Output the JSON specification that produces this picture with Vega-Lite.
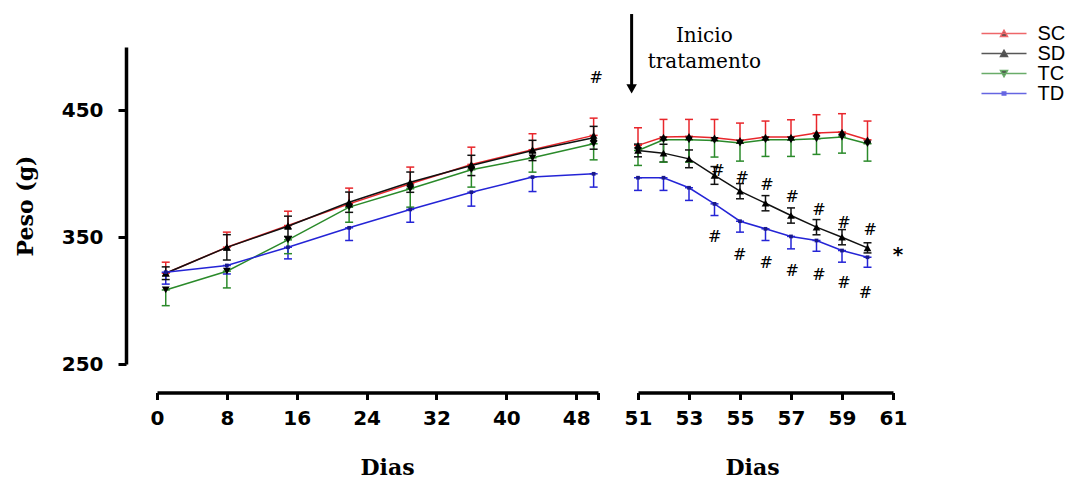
{
  "$schema": "https://vega.github.io/schema/vega-lite/v6.json",
  "background": "white",
  "padding": {"left": 14, "top": 12, "right": 2, "bottom": 2},
  "bounds": "flush",
  "spacing": 40,
  "config": {
    "view": {"stroke": null},
    "axis": {
      "grid": false, "domainColor": "black", "domainWidth": 3.5, "domainCap": "butt",
      "tickColor": "black", "tickWidth": 3, "tickSize": 7,
      "labelFont": "DejaVu Sans", "labelFontWeight": "bold", "labelFontSize": 20, "labelColor": "black",
      "labelFlush": false, "labelOverlap": false, "labelBound": false,
      "titleFont": "DejaVu Serif", "titleFontWeight": "bold", "titleFontSize": 22, "titleColor": "black"
    },
    "legend": {
      "labelFont": "Liberation Sans", "labelFontSize": 20, "labelColor": "black",
      "symbolStrokeWidth": 1.5, "symbolSize": 100, "rowPadding": -3.6, "padding": 0, "labelOffset": 23.5
    }
  },
  "datasets": {
    "pesos": [
      {"grupo": "SC", "dia": 1, "peso": 321.6, "lo": 321.6, "hi": 330.3},
      {"grupo": "SC", "dia": 8, "peso": 342.1, "lo": 342.1, "hi": 354.0},
      {"grupo": "SC", "dia": 15, "peso": 359.2, "lo": 359.2, "hi": 370.5},
      {"grupo": "SC", "dia": 22, "peso": 376.3, "lo": 376.3, "hi": 388.7},
      {"grupo": "SC", "dia": 29, "peso": 392.1, "lo": 392.1, "hi": 405.3},
      {"grupo": "SC", "dia": 36, "peso": 407.4, "lo": 407.4, "hi": 421.0},
      {"grupo": "SC", "dia": 43, "peso": 419.0, "lo": 419.0, "hi": 431.6},
      {"grupo": "SC", "dia": 50, "peso": 430.3, "lo": 430.3, "hi": 443.9},
      {"grupo": "SC", "dia": 51, "peso": 422.4, "lo": 422.4, "hi": 436.3},
      {"grupo": "SC", "dia": 52, "peso": 429.0, "lo": 429.0, "hi": 442.9},
      {"grupo": "SC", "dia": 53, "peso": 429.5, "lo": 429.5, "hi": 442.9},
      {"grupo": "SC", "dia": 54, "peso": 428.4, "lo": 428.4, "hi": 442.9},
      {"grupo": "SC", "dia": 55, "peso": 426.3, "lo": 426.3, "hi": 440.0},
      {"grupo": "SC", "dia": 56, "peso": 429.0, "lo": 429.0, "hi": 441.6},
      {"grupo": "SC", "dia": 57, "peso": 429.0, "lo": 429.0, "hi": 442.6},
      {"grupo": "SC", "dia": 58, "peso": 432.1, "lo": 432.1, "hi": 446.6},
      {"grupo": "SC", "dia": 59, "peso": 432.9, "lo": 432.9, "hi": 447.4},
      {"grupo": "SC", "dia": 60, "peso": 426.8, "lo": 426.8, "hi": 441.6},
      {"grupo": "SD", "dia": 1, "peso": 321.6, "lo": 316.6, "hi": 326.6},
      {"grupo": "SD", "dia": 8, "peso": 342.0, "lo": 332.0, "hi": 352.0},
      {"grupo": "SD", "dia": 15, "peso": 358.6, "lo": 350.6, "hi": 366.6},
      {"grupo": "SD", "dia": 22, "peso": 377.6, "lo": 369.6, "hi": 385.6},
      {"grupo": "SD", "dia": 29, "peso": 393.4, "lo": 385.4, "hi": 401.4},
      {"grupo": "SD", "dia": 36, "peso": 406.6, "lo": 398.6, "hi": 414.6},
      {"grupo": "SD", "dia": 43, "peso": 418.4, "lo": 410.4, "hi": 426.4},
      {"grupo": "SD", "dia": 50, "peso": 428.4, "lo": 419.4, "hi": 437.4},
      {"grupo": "SD", "dia": 51, "peso": 418.4, "lo": 413.4, "hi": 423.4},
      {"grupo": "SD", "dia": 52, "peso": 416.3, "lo": 409.3, "hi": 423.3},
      {"grupo": "SD", "dia": 53, "peso": 411.8, "lo": 404.8, "hi": 418.8},
      {"grupo": "SD", "dia": 54, "peso": 398.7, "lo": 391.7, "hi": 405.7},
      {"grupo": "SD", "dia": 55, "peso": 386.3, "lo": 380.3, "hi": 392.3},
      {"grupo": "SD", "dia": 56, "peso": 376.8, "lo": 370.8, "hi": 382.8},
      {"grupo": "SD", "dia": 57, "peso": 367.1, "lo": 361.1, "hi": 373.1},
      {"grupo": "SD", "dia": 58, "peso": 357.9, "lo": 351.9, "hi": 363.9},
      {"grupo": "SD", "dia": 59, "peso": 350.0, "lo": 344.0, "hi": 356.0},
      {"grupo": "SD", "dia": 60, "peso": 341.6, "lo": 337.6, "hi": 345.6},
      {"grupo": "TC", "dia": 1, "peso": 308.4, "lo": 296.0, "hi": 308.4},
      {"grupo": "TC", "dia": 8, "peso": 323.2, "lo": 310.0, "hi": 323.2},
      {"grupo": "TC", "dia": 15, "peso": 347.9, "lo": 337.0, "hi": 347.9},
      {"grupo": "TC", "dia": 22, "peso": 373.7, "lo": 361.8, "hi": 373.7},
      {"grupo": "TC", "dia": 29, "peso": 388.2, "lo": 373.7, "hi": 388.2},
      {"grupo": "TC", "dia": 36, "peso": 403.2, "lo": 389.5, "hi": 403.2},
      {"grupo": "TC", "dia": 43, "peso": 412.6, "lo": 401.3, "hi": 412.6},
      {"grupo": "TC", "dia": 50, "peso": 423.7, "lo": 411.0, "hi": 423.7},
      {"grupo": "TC", "dia": 51, "peso": 418.4, "lo": 406.6, "hi": 418.4},
      {"grupo": "TC", "dia": 52, "peso": 426.8, "lo": 409.2, "hi": 426.8},
      {"grupo": "TC", "dia": 53, "peso": 426.8, "lo": 409.2, "hi": 426.8},
      {"grupo": "TC", "dia": 54, "peso": 426.3, "lo": 413.2, "hi": 426.3},
      {"grupo": "TC", "dia": 55, "peso": 424.2, "lo": 410.0, "hi": 424.2},
      {"grupo": "TC", "dia": 56, "peso": 426.8, "lo": 413.7, "hi": 426.8},
      {"grupo": "TC", "dia": 57, "peso": 426.8, "lo": 413.7, "hi": 426.8},
      {"grupo": "TC", "dia": 58, "peso": 427.6, "lo": 415.3, "hi": 427.6},
      {"grupo": "TC", "dia": 59, "peso": 429.0, "lo": 416.3, "hi": 429.0},
      {"grupo": "TC", "dia": 60, "peso": 423.7, "lo": 410.0, "hi": 423.7},
      {"grupo": "TD", "dia": 1, "peso": 322.4, "lo": 313.0, "hi": 322.4},
      {"grupo": "TD", "dia": 8, "peso": 327.7, "lo": 321.0, "hi": 327.7},
      {"grupo": "TD", "dia": 15, "peso": 342.1, "lo": 332.9, "hi": 342.1},
      {"grupo": "TD", "dia": 22, "peso": 357.4, "lo": 347.4, "hi": 357.4},
      {"grupo": "TD", "dia": 29, "peso": 371.9, "lo": 361.8, "hi": 371.9},
      {"grupo": "TD", "dia": 36, "peso": 385.5, "lo": 374.5, "hi": 385.5},
      {"grupo": "TD", "dia": 43, "peso": 397.4, "lo": 386.0, "hi": 397.4},
      {"grupo": "TD", "dia": 50, "peso": 400.0, "lo": 389.5, "hi": 400.0},
      {"grupo": "TD", "dia": 51, "peso": 396.9, "lo": 386.9, "hi": 396.9},
      {"grupo": "TD", "dia": 52, "peso": 396.9, "lo": 386.9, "hi": 396.9},
      {"grupo": "TD", "dia": 53, "peso": 389.0, "lo": 379.0, "hi": 389.0},
      {"grupo": "TD", "dia": 54, "peso": 376.3, "lo": 367.1, "hi": 376.3},
      {"grupo": "TD", "dia": 55, "peso": 362.6, "lo": 354.0, "hi": 362.6},
      {"grupo": "TD", "dia": 56, "peso": 356.6, "lo": 347.4, "hi": 356.6},
      {"grupo": "TD", "dia": 57, "peso": 350.6, "lo": 340.8, "hi": 350.6},
      {"grupo": "TD", "dia": 58, "peso": 347.4, "lo": 338.9, "hi": 347.4},
      {"grupo": "TD", "dia": 59, "peso": 339.5, "lo": 330.3, "hi": 339.5},
      {"grupo": "TD", "dia": 60, "peso": 334.2, "lo": 326.3, "hi": 334.2}
    ],
    "notas": [
      {"dia": 50.3, "peso": 475.3, "texto": "#"},
      {"dia": 54.14, "peso": 402.6, "texto": "#"},
      {"dia": 55.09, "peso": 396.9, "texto": "#"},
      {"dia": 56.06, "peso": 390.8, "texto": "#"},
      {"dia": 57.05, "peso": 381.6, "texto": "#"},
      {"dia": 58.1, "peso": 371.6, "texto": "#"},
      {"dia": 59.08, "peso": 361.1, "texto": "#"},
      {"dia": 60.11, "peso": 355.8, "texto": "#"},
      {"dia": 54.01, "peso": 350.0, "texto": "#"},
      {"dia": 54.99, "peso": 335.6, "texto": "#"},
      {"dia": 56.03, "peso": 329.5, "texto": "#"},
      {"dia": 57.05, "peso": 323.2, "texto": "#"},
      {"dia": 58.1, "peso": 319.8, "texto": "#"},
      {"dia": 59.08, "peso": 313.7, "texto": "#"},
      {"dia": 59.92, "peso": 305.8, "texto": "#"},
      {"dia": 61.2, "peso": 336.3, "texto": "*"},
      {"dia": 53.6, "peso": 508.4, "texto": "Inicio"},
      {"dia": 53.6, "peso": 487.9, "texto": "tratamento"}
    ],
    "seta": [
      {"dia": 50.75, "topo": 526, "base": 467}
    ]
  },
  "hconcat": [
    {
      "width": 441,
      "height": 317,
      "data": {"name": "pesos"},
      "transform": [{"filter": "datum.dia <= 50.5"}],
      "encoding": {
        "x": {"field": "dia", "type": "quantitative", "scale": {"domain": [0, 50.5], "nice": false, "zero": false}, "axis": {"title": "Dias", "values": [0, 8, 16, 24, 32, 40, 48, 50.5], "labelExpr": "datum.value > 49 ? '' : datum.label", "offset": 28.5, "labelPadding": 9, "titlePadding": 29, "titleX": 230}}
      },
      "layer": [
        {
          "mark": {"type": "rule", "strokeWidth": 1.5},
          "encoding": {
            "y": {"field": "lo", "type": "quantitative", "scale": {"domain": [250, 500], "nice": false, "zero": false}, "axis": {"title": "Peso (g)", "values": [250, 350, 450], "offset": 31, "tickSize": 8, "labelPadding": 15, "titlePadding": 24}},
            "y2": {"field": "hi"},
            "stroke": {"field": "grupo", "type": "nominal", "scale": {"domain": ["TD", "TC", "SD", "SC"], "range": ["#2424d6", "#2a8a2a", "#111111", "#e8262b"]}, "legend": null}
          }
        },
        {
          "mark": {"type": "tick", "orient": "horizontal", "size": 8, "thickness": 1.5, "opacity": 1},
          "encoding": {
            "y": {"field": "lo", "type": "quantitative", "scale": {"domain": [250, 500], "nice": false, "zero": false}, "axis": {"title": "Peso (g)", "values": [250, 350, 450], "offset": 31, "tickSize": 8, "labelPadding": 15, "titlePadding": 24}},
            "fill": {"field": "grupo", "type": "nominal", "scale": {"domain": ["TD", "TC", "SD", "SC"], "range": ["#2424d6", "#2a8a2a", "#111111", "#e8262b"]}, "legend": null}
          }
        },
        {
          "mark": {"type": "tick", "orient": "horizontal", "size": 8, "thickness": 1.5, "opacity": 1},
          "encoding": {
            "y": {"field": "hi", "type": "quantitative", "scale": {"domain": [250, 500], "nice": false, "zero": false}, "axis": {"title": "Peso (g)", "values": [250, 350, 450], "offset": 31, "tickSize": 8, "labelPadding": 15, "titlePadding": 24}},
            "fill": {"field": "grupo", "type": "nominal", "scale": {"domain": ["TD", "TC", "SD", "SC"], "range": ["#2424d6", "#2a8a2a", "#111111", "#e8262b"]}, "legend": null}
          }
        },
        {
          "mark": {"type": "line", "strokeWidth": 1.5},
          "encoding": {
            "y": {"field": "peso", "type": "quantitative", "scale": {"domain": [250, 500], "nice": false, "zero": false}, "axis": {"title": "Peso (g)", "values": [250, 350, 450], "offset": 31, "tickSize": 8, "labelPadding": 15, "titlePadding": 24}},
            "stroke": {"field": "grupo", "type": "nominal", "scale": {"domain": ["TD", "TC", "SD", "SC"], "range": ["#2424d6", "#2a8a2a", "#111111", "#e8262b"]}, "legend": null}
          }
        },
        {
          "transform": [{"filter": "datum.grupo == 'SC' || datum.grupo == 'SD'"}],
          "mark": {"type": "point", "shape": "triangle-up", "filled": true, "color": "black", "size": 60, "opacity": 1},
          "encoding": {
            "y": {"field": "peso", "type": "quantitative", "scale": {"domain": [250, 500], "nice": false, "zero": false}, "axis": {"title": "Peso (g)", "values": [250, 350, 450], "offset": 31, "tickSize": 8, "labelPadding": 15, "titlePadding": 24}}
          }
        },
        {
          "transform": [{"filter": "datum.grupo == 'TC'"}],
          "mark": {"type": "point", "shape": "triangle-down", "filled": true, "color": "black", "size": 60, "opacity": 1},
          "encoding": {
            "y": {"field": "peso", "type": "quantitative", "scale": {"domain": [250, 500], "nice": false, "zero": false}, "axis": {"title": "Peso (g)", "values": [250, 350, 450], "offset": 31, "tickSize": 8, "labelPadding": 15, "titlePadding": 24}}
          }
        },
        {
          "transform": [{"filter": "datum.grupo == 'TD'"}],
          "mark": {"type": "point", "shape": "square", "filled": true, "color": "#1a1a8a", "size": 14, "opacity": 1},
          "encoding": {
            "y": {"field": "peso", "type": "quantitative", "scale": {"domain": [250, 500], "nice": false, "zero": false}, "axis": {"title": "Peso (g)", "values": [250, 350, 450], "offset": 31, "tickSize": 8, "labelPadding": 15, "titlePadding": 24}}
          }
        },
        {
          "data": {"name": "notas"},
          "transform": [{"filter": "datum.dia <= 50.5 && datum.texto == '#'"}],
          "mark": {"type": "text", "font": "DejaVu Serif", "fontSize": 16, "color": "black", "baseline": "middle", "align": "center"},
          "encoding": {
            "y": {"field": "peso", "type": "quantitative", "scale": {"domain": [250, 500], "nice": false, "zero": false}, "axis": {"title": "Peso (g)", "values": [250, 350, 450], "offset": 31, "tickSize": 8, "labelPadding": 15, "titlePadding": 24}},
            "text": {"field": "texto", "type": "nominal"}
          }
        }
      ]
    },
    {
      "width": 255,
      "height": 317,
      "data": {"name": "pesos"},
      "transform": [{"filter": "datum.dia > 50.5"}],
      "encoding": {
        "x": {"field": "dia", "type": "quantitative", "scale": {"domain": [51, 61], "nice": false, "zero": false}, "axis": {"title": "Dias", "values": [51, 53, 55, 57, 59, 61], "offset": 28.5, "labelPadding": 9, "titlePadding": 29, "titleX": 114}}
      },
      "layer": [
        {
          "mark": {"type": "rule", "strokeWidth": 1.5},
          "encoding": {
            "y": {"field": "lo", "type": "quantitative", "scale": {"domain": [250, 500], "nice": false, "zero": false}, "axis": null},
            "y2": {"field": "hi"},
            "stroke": {"field": "grupo", "type": "nominal", "scale": {"domain": ["TD", "TC", "SD", "SC"], "range": ["#2424d6", "#2a8a2a", "#111111", "#e8262b"]}, "legend": null}
          }
        },
        {
          "mark": {"type": "tick", "orient": "horizontal", "size": 8, "thickness": 1.5, "opacity": 1},
          "encoding": {
            "y": {"field": "lo", "type": "quantitative", "scale": {"domain": [250, 500], "nice": false, "zero": false}, "axis": null},
            "fill": {"field": "grupo", "type": "nominal", "scale": {"domain": ["TD", "TC", "SD", "SC"], "range": ["#2424d6", "#2a8a2a", "#111111", "#e8262b"]}, "legend": null}
          }
        },
        {
          "mark": {"type": "tick", "orient": "horizontal", "size": 8, "thickness": 1.5, "opacity": 1},
          "encoding": {
            "y": {"field": "hi", "type": "quantitative", "scale": {"domain": [250, 500], "nice": false, "zero": false}, "axis": null},
            "fill": {"field": "grupo", "type": "nominal", "scale": {"domain": ["TD", "TC", "SD", "SC"], "range": ["#2424d6", "#2a8a2a", "#111111", "#e8262b"]}, "legend": null}
          }
        },
        {
          "mark": {"type": "line", "strokeWidth": 1.5},
          "encoding": {
            "y": {"field": "peso", "type": "quantitative", "scale": {"domain": [250, 500], "nice": false, "zero": false}, "axis": null},
            "stroke": {"field": "grupo", "type": "nominal", "scale": {"domain": ["TD", "TC", "SD", "SC"], "range": ["#2424d6", "#2a8a2a", "#111111", "#e8262b"]}, "legend": null}
          }
        },
        {
          "transform": [{"filter": "datum.grupo == 'SC' || datum.grupo == 'SD'"}],
          "mark": {"type": "point", "shape": "triangle-up", "filled": true, "color": "black", "size": 60, "opacity": 1},
          "encoding": {
            "y": {"field": "peso", "type": "quantitative", "scale": {"domain": [250, 500], "nice": false, "zero": false}, "axis": null}
          }
        },
        {
          "transform": [{"filter": "datum.grupo == 'TC'"}],
          "mark": {"type": "point", "shape": "triangle-down", "filled": true, "color": "black", "size": 60, "opacity": 1},
          "encoding": {
            "y": {"field": "peso", "type": "quantitative", "scale": {"domain": [250, 500], "nice": false, "zero": false}, "axis": null}
          }
        },
        {
          "transform": [{"filter": "datum.grupo == 'TD'"}],
          "mark": {"type": "point", "shape": "square", "filled": true, "color": "#1a1a8a", "size": 14, "opacity": 1},
          "encoding": {
            "y": {"field": "peso", "type": "quantitative", "scale": {"domain": [250, 500], "nice": false, "zero": false}, "axis": null}
          }
        },
        {
          "data": {"name": "notas"},
          "transform": [{"filter": "datum.dia > 50.5 && datum.texto == '#'"}],
          "mark": {"type": "text", "font": "DejaVu Serif", "fontSize": 16, "color": "black", "baseline": "middle", "align": "center"},
          "encoding": {
            "y": {"field": "peso", "type": "quantitative", "scale": {"domain": [250, 500], "nice": false, "zero": false}, "axis": null},
            "text": {"field": "texto", "type": "nominal"}
          }
        },
        {
          "data": {"name": "notas"},
          "transform": [{"filter": "datum.texto == '*'"}],
          "mark": {"type": "text", "font": "DejaVu Sans", "fontWeight": "bold", "fontSize": 20, "color": "black", "baseline": "middle", "align": "center"},
          "encoding": {
            "y": {"field": "peso", "type": "quantitative", "scale": {"domain": [250, 500], "nice": false, "zero": false}, "axis": null},
            "text": {"field": "texto", "type": "nominal"}
          }
        },
        {
          "data": {"name": "notas"},
          "transform": [{"filter": "datum.texto != '*' && datum.texto != '#'"}],
          "mark": {"type": "text", "font": "DejaVu Serif", "fontSize": 20, "color": "black", "baseline": "middle", "align": "center"},
          "encoding": {
            "y": {"field": "peso", "type": "quantitative", "scale": {"domain": [250, 500], "nice": false, "zero": false}, "axis": null},
            "text": {"field": "texto", "type": "nominal"}
          }
        },
        {
          "data": {"name": "seta"},
          "mark": {"type": "rule", "strokeWidth": 3, "color": "black"},
          "encoding": {
            "y": {"field": "topo", "type": "quantitative", "scale": {"domain": [250, 500], "nice": false, "zero": false}, "axis": null},
            "y2": {"field": "base"}
          }
        },
        {
          "data": {"name": "seta"},
          "mark": {"type": "point", "shape": "triangle-down", "filled": true, "color": "black", "size": 110, "opacity": 1},
          "encoding": {
            "y": {"field": "base", "type": "quantitative", "scale": {"domain": [250, 500], "nice": false, "zero": false}, "axis": null}
          }
        },
        {
          "transform": [{"filter": "datum.dia > 1000"}],
          "mark": {"type": "point", "filled": false, "fill": "black"},
          "encoding": {
            "y": {"field": "peso", "type": "quantitative", "scale": {"domain": [250, 500], "nice": false, "zero": false}, "axis": null},
            "color": {"field": "grupo", "type": "nominal", "scale": {"domain": ["SC", "SD", "TC", "TD"], "range": ["#e8262b", "#111111", "#2a8a2a", "#2424d6"]}, "legend": {"title": null, "orient": "none", "legendX": 837, "legendY": -23.5}},
            "shape": {"field": "grupo", "type": "nominal", "scale": {"domain": ["SC", "SD", "TC", "TD"], "range": ["M-4.5,0H4.5M-0.7,0.6L0,-0.65L0.7,0.6Z", "M-4.5,0H4.5M-0.7,0.6L0,-0.65L0.7,0.6Z", "M-4.5,0H4.5M-0.7,-0.6L0,0.65L0.7,-0.6Z", "M-4.5,0H4.5M-0.35,-0.3H0.35V0.3H-0.35Z"]}, "legend": {"title": null, "orient": "none", "legendX": 837, "legendY": -23.5}}
          }
        }
      ]
    }
  ]
}
